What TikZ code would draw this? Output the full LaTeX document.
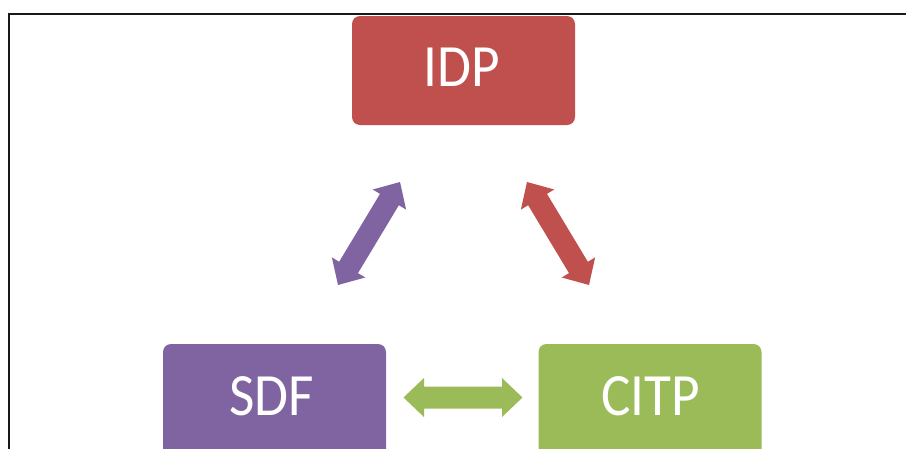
\documentclass[tikz,border=0pt]{standalone}
\usepackage{fontspec}
\setmainfont{Carlito}
\usetikzlibrary{calc}
\definecolor{cred}{HTML}{C0504D}
\definecolor{cpurple}{HTML}{8064A2}
\definecolor{cgreen}{HTML}{9BBB59}
\tikzset{
  boxnode/.style={rounded corners=8pt, minimum width=223pt, minimum height=109pt, inner sep=0pt, draw=none},
  lowbox/.style={boxnode, minimum height=124pt},
  lbl/.style={text=white, inner sep=0pt, anchor=base, font=\fontsize{60}{72}\selectfont},
}
\newcommand{\cond}[1]{\scalebox{0.92}[1]{#1}}
\newcommand{\dblarr}[3]{%
  \coordinate (h1) at ($(#1)!20.5pt!(#2)$);
  \coordinate (h2) at ($(#2)!20.5pt!(#1)$);
  \fill[#3] (#1) -- ($(h1)!19.5pt!90:(#2)$) -- ($(h1)!11pt!90:(#2)$)
    -- ($(h2)!11pt!-90:(#1)$) -- ($(h2)!19.5pt!-90:(#1)$) -- (#2)
    -- ($(h2)!19.5pt!90:(#1)$) -- ($(h2)!11pt!90:(#1)$)
    -- ($(h1)!11pt!-90:(#2)$) -- ($(h1)!19.5pt!-90:(#2)$) -- cycle;}
\begin{document}
\begin{tikzpicture}[x=1pt,y=-1pt]
\useasboundingbox (0,0) rectangle (906,448);
\clip (0,0) rectangle (906,448);
\draw[line width=2pt, black!90] (9,470) -- (9,13.5) -- (930,13.5);
\node[boxnode, fill=cred] (idp) at (463.5,70.5) {};
\node[lowbox, fill=cpurple] (sdf) at (274.5,406) {};
\node[lowbox, fill=cgreen] (citp) at (650,406) {};
\node[lbl] (idpt) at (461.5,86.7) {\cond{IDP}};
\node[lbl] (sdft) at (271.7,415) {\cond{SDF}};
\node[lbl] (citpt) at (650.5,415.5) {\cond{CITP}};
\coordinate (pa) at (400,182);
\coordinate (pb) at (338,285);
\coordinate (ra) at (527,182);
\coordinate (rb) at (589,285);
\coordinate (ga) at (403.5,397.5);
\coordinate (gb) at (522.5,397.5);
\dblarr{pa}{pb}{cpurple}
\dblarr{ra}{rb}{cred}
\dblarr{ga}{gb}{cgreen}
\end{tikzpicture}
\end{document}
